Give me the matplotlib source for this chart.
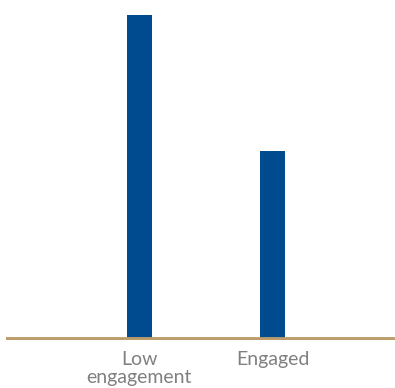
import matplotlib
matplotlib.use("Agg")
import matplotlib.pyplot as plt

# engagement groups and their (unlabelled) bar values
categories = ["Low\nengagement", "Engaged"]
values = [100, 58]

bar_color = "#004a8f"
base_color = "#bb9c6a"
text_color = "#808080"

fig = plt.figure(figsize=(3.95, 3.88), dpi=100)
ax = fig.add_axes([6 / 395, 48.5 / 388, 389 / 395, 324.5 / 388 * 104.6 / 100])

x = range(len(categories))
ax.bar(x, values, width=0.188, color=bar_color, zorder=2)
ax.axhline(0, color=base_color, linewidth=4.2, zorder=3)

ax.set_xlim(-1.0, 1.92)
ax.set_ylim(0, 104.6)
ax.set_xticks(list(x))
ax.set_xticklabels(categories, fontname="Lato", fontsize=14, color=text_color,
                   linespacing=1.1)
ax.tick_params(axis="x", length=0, pad=8)
ax.set_yticks([])
for s in ax.spines.values():
    s.set_visible(False)

fig.savefig("out.png", dpi=100)
